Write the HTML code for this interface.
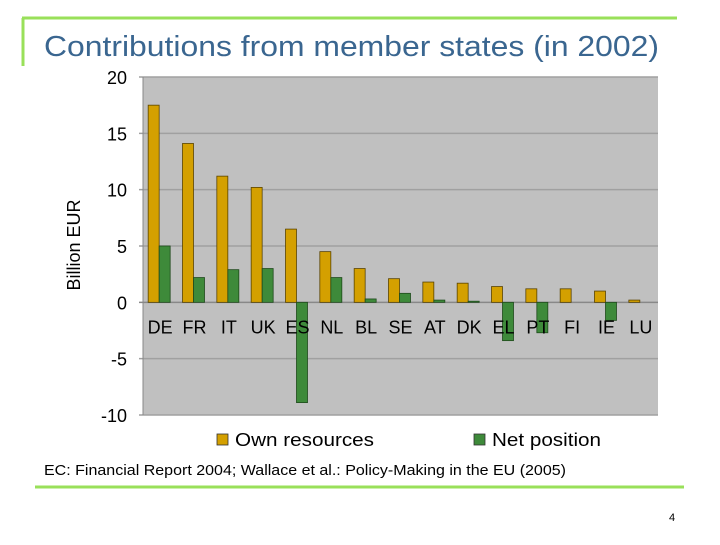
<!DOCTYPE html>
<html><head><meta charset="utf-8"><style>
body{margin:0;background:#fff;width:720px;height:540px;overflow:hidden;font-family:"Liberation Sans",sans-serif}
</style></head><body>
<svg width="720" height="540" xmlns="http://www.w3.org/2000/svg">
<line x1="22" y1="18" x2="677" y2="18" stroke="#99e05a" stroke-width="3"/>
<line x1="23" y1="18" x2="23" y2="66" stroke="#99e05a" stroke-width="3"/>
<text x="44" y="56" font-size="29" fill="#3a6690" textLength="615" lengthAdjust="spacingAndGlyphs">Contributions from member states (in 2002)</text>
<g id="chart"></g>
<text x="44" y="475" font-size="14.5" fill="#000" textLength="522" lengthAdjust="spacingAndGlyphs">EC: Financial Report 2004; Wallace et al.: Policy-Making in the EU (2005)</text>
<line x1="35" y1="487" x2="684" y2="487" stroke="#99e05a" stroke-width="3"/>
<text x="669" y="521" font-size="11" fill="#000">4</text>
</svg>
<script>
const categories=["DE","FR","IT","UK","ES","NL","BL","SE","AT","DK","EL","PT","FI","IE","LU"];
const ownResources=[17.5,14.1,11.2,10.2,6.5,4.5,3.0,2.1,1.8,1.7,1.4,1.2,1.2,1.0,0.2];
const netPosition=[5.0,2.2,2.9,3.0,-8.9,2.2,0.3,0.8,0.2,0.1,-3.4,-2.7,0,-1.6,0];
const yTicks=[20,15,10,5,0,-5,-10];
const NS="http://www.w3.org/2000/svg";
const g=document.getElementById('chart');
const L=143,R=658,T=77,B=415,yMin=-10,yMax=20;
const y=v=>T+(yMax-v)/(yMax-yMin)*(B-T);
const band=(R-L)/categories.length;
const x=i=>L+i*band;
function mk(t,a){const e=document.createElementNS(NS,t);for(const k in a)e.setAttribute(k,a[k]);g.appendChild(e);return e;}
let e=mk('rect',{x:L,y:T,width:R-L,height:B-T,fill:'#c0c0c0'});


yTicks.forEach(v=>{
 let l=mk('line',{x1:L-4,x2:R,y1:y(v),y2:y(v),stroke:v===0?'#888':'#a0a0a0','stroke-width':1.5});
 
 
 let t=mk('text',{x:127,y:y(v)+7,'font-size':18,'text-anchor':'end',fill:'#000'});t.textContent=v;
 
 
});
let ax=mk('line',{x1:L,x2:L,y1:T,y2:B,stroke:'#888'});


const bw=11;
categories.forEach((c,i)=>{
 const cx=x(i)+band/2;
 const a=ownResources[i];
 let r=mk('rect',{x:cx-bw-1,y:Math.min(y(a),y(0)),width:bw,height:Math.abs(y(a)-y(0)),fill:'#d4a000',stroke:'#5a4400','stroke-width':0.8});
 
 
 const n=netPosition[i];
 if(n!==0){let q=mk('rect',{x:cx-1,y:Math.min(y(n),y(0)),width:bw,height:Math.abs(y(n)-y(0)),fill:'#3e8a3a',stroke:'#1f4a1c','stroke-width':0.8});
 
 }
 let t=mk('text',{x:cx,y:y(0)+31,'font-size':18,'text-anchor':'middle',fill:'#000'});t.textContent=c;
 
 
});
let yl=mk('text',{x:0,y:0,'font-size':18,'text-anchor':'middle',transform:'translate(80,245) rotate(-90)'});yl.textContent='Billion EUR';


[[217,'#d4a000','Own resources',139],[474,'#3e8a3a','Net position',109]].forEach(([lx,col,lab,w])=>{
 let s=mk('rect',{x:lx,y:434,width:11,height:11,fill:col,stroke:'#333','stroke-width':0.8});
 
 
 let t=mk('text',{x:lx+18,y:446,'font-size':18,textLength:w,lengthAdjust:'spacingAndGlyphs'});t.textContent=lab;
 
 
});
</script>
</body></html>
